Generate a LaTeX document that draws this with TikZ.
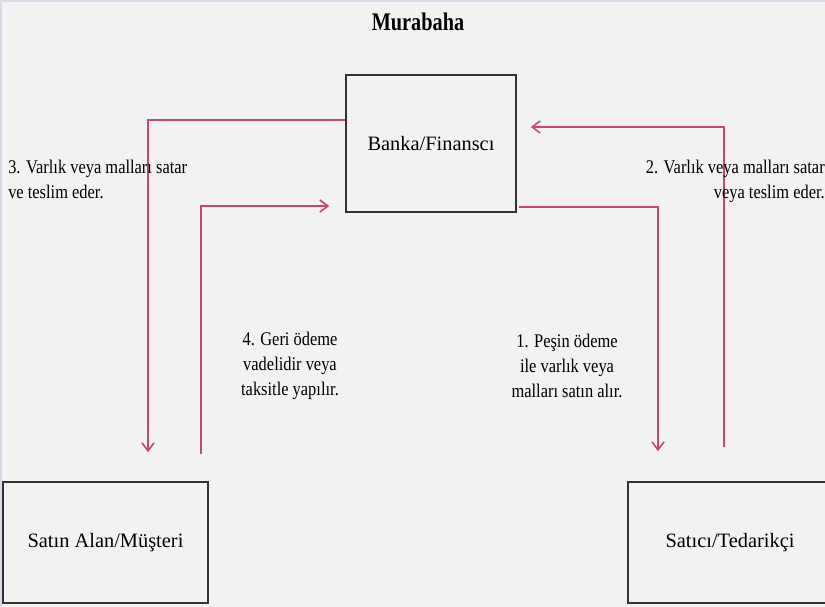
\documentclass[tikz,border=0pt]{standalone}
\usepackage{fontspec}
\setmainfont{Liberation Serif}
\newfontfamily\labelfont[FakeStretch=0.85]{Liberation Serif}
\newfontfamily\titlefont[FakeStretch=0.8]{Liberation Serif}
\usepackage{tikz}
\usetikzlibrary{arrows.meta, calc, positioning}
\definecolor{flowpink}{HTML}{C8457A}
\definecolor{bggray}{HTML}{F2F2F2}
\definecolor{edgeblue}{HTML}{D3DAE6}

\tikzset{
  party/.style={draw=black!80, line width=1.2pt, inner sep=0pt,
                font=\fontsize{15.3}{18}\selectfont},
  flow/.style={flowpink, line width=1.3pt,
               -{Straight Barb[length=6pt,width=9pt,line width=1.2pt]}},
  note/.style={inner sep=0pt, font=\labelfont\fontsize{14.5}{18.5}\selectfont}
}

\begin{document}
\begin{tikzpicture}[x=0.75pt, y=-0.75pt]
\useasboundingbox (0,0) rectangle (825,607);
\fill[bggray] (0,0) rectangle (825,607);
\draw[edgeblue, line width=1pt] (1,607) -- (1,1) -- (825,1);

\node[font=\titlefont\bfseries\fontsize{19}{22}\selectfont] (title) at (418,22) {Murabaha};

\node[party, minimum width=127.5pt, minimum height=102.75pt] (bank) at (431,143.5) {Banka/Finansc\i};
\node[party, minimum width=153.75pt, minimum height=90.75pt] (buyer) at (105.5,542.5) {Sat\i n Alan/Müşteri};
\node[party, minimum width=153pt, minimum height=90.75pt] (seller) at (730,542.5) {Sat\i c\i/Tedarikçi};

% akislar
\draw[flow] ($(bank.west)+(0,-23.5)$) -| ($(buyer.north)+(42.5,-29)$);
\draw[flow] ($(buyer.north)+(95.5,-27)$) |- ($(bank.west)+(-16,62.5)$);
\draw[flow] ($(bank.east)+(2,63.5)$) -| ($(seller.north)+(-72,-30)$);
\draw[flow] ($(seller.north)+(-6,-34)$) |- ($(bank.east)+(14,-16.5)$);

\node[note, anchor=north west, align=left] (n3) at (8,160) {3. Varl\i k veya mallar\i{} satar\\ve teslim eder.};
\node[note, anchor=north east, align=right] (n2) at (825,160) {2. Varl\i k veya mallar\i{} satar\\veya teslim eder.};
\node[note, align=center] (n4) at (290,366) {4. Geri ödeme\\vadelidir veya\\taksitle yap\i l\i r.};
\node[note, align=center] (n1) at (567,366) {1. Peşin ödeme\\ile varl\i k veya\\mallar\i{} sat\i n al\i r.};
\end{tikzpicture}
\end{document}
